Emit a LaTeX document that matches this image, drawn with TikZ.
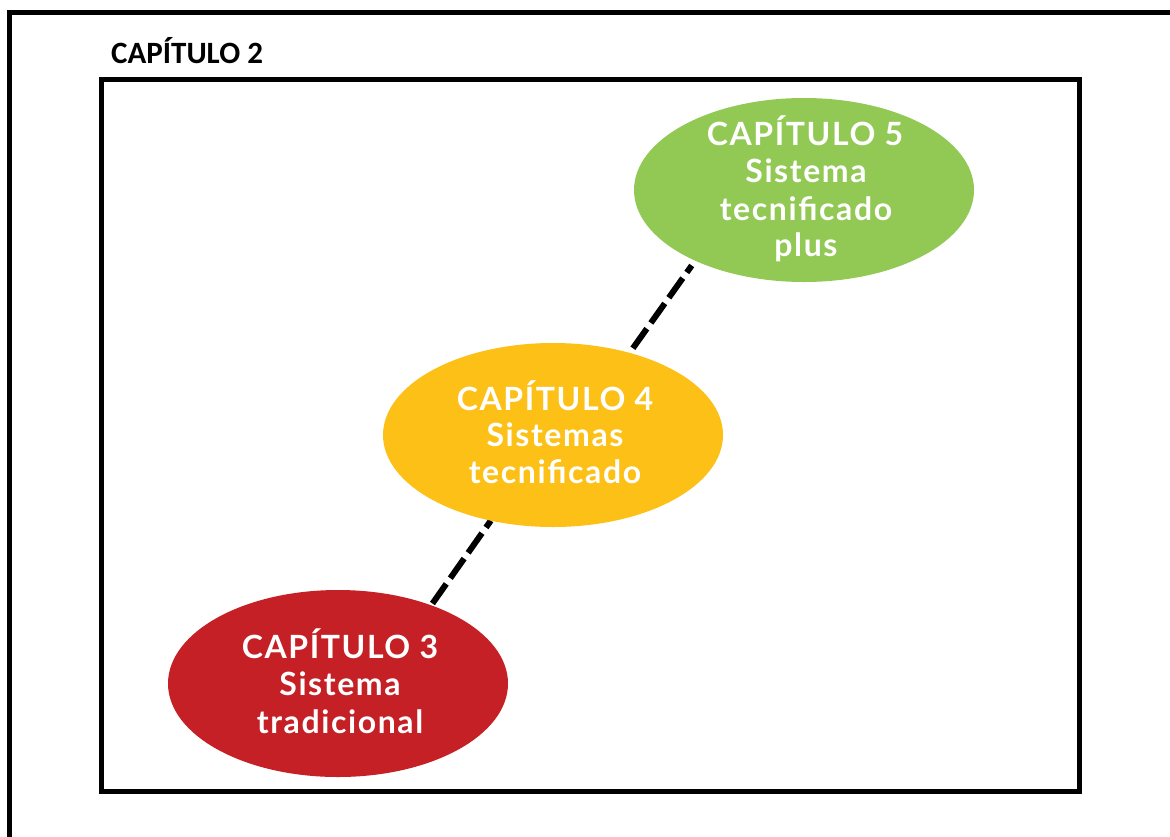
\documentclass[tikz,border=0pt]{standalone}
\usepackage{fontspec}
\newfontfamily\titlefont{Carlito}
\newfontfamily\elfont[LetterSpace=5]{Lato}
\usetikzlibrary{shapes.geometric}
\pgfdeclarelayer{bg}
\pgfsetlayers{bg,main}
\definecolor{cgreen}{HTML}{92C955}
\definecolor{cyellow}{HTML}{FCC017}
\definecolor{cred}{HTML}{C42026}
\tikzset{
  frame/.style={draw=black, line width=5pt},
  blob/.style={ellipse, draw=none, inner sep=0pt, outer sep=0pt, minimum width=340pt, minimum height=184pt},
  eltext/.style={text=white, font=\elfont\bfseries\fontsize{32}{33}\selectfont, inner sep=0pt, anchor=base},
  link/.style={line width=6pt, dash pattern=on 24pt off 7pt, line cap=butt}
}
\begin{document}
\begin{tikzpicture}[x=1pt,y=-1pt]
\useasboundingbox (0,0) rectangle (1170,836);
\clip (0,0) rectangle (1170,836);
\draw[frame] (9.5,12) rectangle (1200,900);
\node[font=\titlefont\bfseries\fontsize{31}{32}\selectfont, inner sep=0pt, anchor=base west] (t2) at (111,63.5) {CAPÍTULO 2};
\draw[frame] (101,79) rectangle (1079,791);

\node[blob, fill=cgreen] (g) at (804,190) {};
\node[blob, fill=cyellow] (y) at (553,435) {};
\node[blob, fill=cred, minimum height=187pt] (r) at (338,683.5) {};

\begin{pgfonlayer}{bg}
\draw[link, shorten <=5.7pt, shorten >=5.9pt] (y.47.5) -- (g.213.6);
\draw[link, shorten <=2.2pt] (r.40.6) -- (y.234.4);
\end{pgfonlayer}

\node[eltext] (g1) at (805,145) {CAPÍTULO 5};
\node[eltext] (g2) at (806,182.3) {Sistema};
\node[eltext] (g3) at (806,220) {tecnificado};
\node[eltext] (g4) at (806,256) {plus};

\node[eltext] (y1) at (555,410) {CAPÍTULO 4};
\node[eltext] (y2) at (555,446.7) {Sistemas};
\node[eltext] (y3) at (555,483.3) {tecnificado};

\node[eltext] (r1) at (340,658) {CAPÍTULO 3};
\node[eltext] (r2) at (340,695) {Sistema};
\node[eltext] (r3) at (340,733) {tradicional};
\end{tikzpicture}
\end{document}
